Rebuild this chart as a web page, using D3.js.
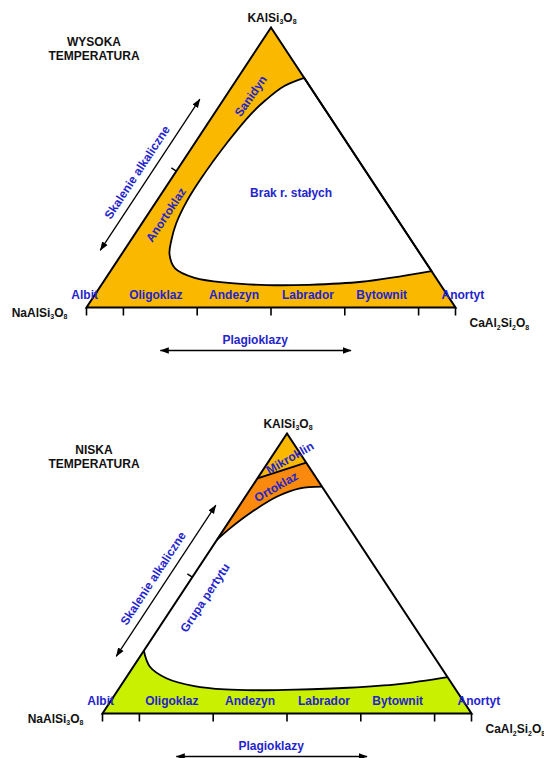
<!DOCTYPE html>
<html>
<head>
<meta charset="utf-8">
<script src="https://cdn.jsdelivr.net/npm/d3@7"></script>
<style>
  body { margin: 0; background: #ffffff; }
  svg { display: block; }
  text { font-family: "Liberation Sans", Arial, Helvetica, sans-serif; font-weight: bold; }
</style>
</head>
<body>
<svg id="chart" width="544" height="758"></svg>
<script>
// ---- data -------------------------------------------------------------
// Plagioclase series names and their positions along the Ab–An join (An fraction)
const plagioclaseNames = ["Albit", "Oligoklaz", "Andezyn", "Labrador", "Bytownit", "Anortyt"];
const plagioclaseNamePos = [-0.005, 0.188, 0.40, 0.60, 0.80, 1.02];
// Division ticks along the Ab–An join (An fraction)
const baseTicks = [0, 0.1, 0.3, 0.5, 0.7, 0.9, 1];

// End-member formulas: [text, isSubscript]
const formulaOr = [["KAlSi", false], ["3", true], ["O", false], ["8", true]];
const formulaAb = [["NaAlSi", false], ["3", true], ["O", false], ["8", true]];
const formulaAn = [["CaAl", false], ["2", true], ["Si", false], ["2", true], ["O", false], ["8", true]];

// High temperature: boundary of the field without solid solution, points as [An, Or]
const gapHigh = [[0.18, 0.82], [0.14, 0.79], [0.115, 0.74], [0.10, 0.69], [0.087, 0.59],
  [0.08, 0.46], [0.082, 0.38], [0.093, 0.30], [0.11, 0.24], [0.13, 0.19], [0.17, 0.14],
  [0.24, 0.106], [0.34, 0.088], [0.45, 0.080], [0.56, 0.081], [0.70, 0.092], [0.87, 0.13]];

// Low temperature: upper limit of the plagioclase field, [An, Or]
const plagLow = [[0.87, 0.13], [0.75, 0.105], [0.62, 0.092], [0.48, 0.085], [0.39, 0.083],
  [0.29, 0.086], [0.20, 0.098], [0.11, 0.126], [0.045, 0.167], [0, 0.224]];
// Low temperature: lower limit of the orthoclase field, [An, Or]
const orthoLow = [[0.19, 0.81], [0.133, 0.804], [0.085, 0.774], [0.042, 0.715], [0.015, 0.661], [0, 0.62]];
// Low temperature: microcline / orthoclase boundary, [An, Or]
const microLine = [[0, 0.84], [0.104, 0.896]];

// ---- layout -----------------------------------------------------------
const W = 369, H = 280;
const BLUE = "#2424cc";
const svg = d3.select("#chart");

svg.append("defs").append("marker")
  .attr("id", "arrowHead")
  .attr("viewBox", "0 -4 9 8")
  .attr("refX", 8.5).attr("refY", 0)
  .attr("markerWidth", 9).attr("markerHeight", 8)
  .attr("markerUnits", "userSpaceOnUse")
  .attr("orient", "auto-start-reverse")
  .append("path").attr("d", "M0,-3.3L9,0L0,3.3Z").attr("fill", "#000");

function formula(g, parts, x, y, anchor) {
  const t = g.append("text").attr("x", x).attr("y", y).attr("text-anchor", anchor)
    .attr("font-size", 12).attr("fill", "#111");
  let sub = false;
  parts.forEach(([s, isSub]) => {
    const sp = t.append("tspan").text(s);
    if (isSub && !sub) { sp.attr("dy", 2.5).attr("font-size", 7); sub = true; }
    else if (isSub) { sp.attr("font-size", 7); }
    else if (!isSub && sub) { sp.attr("dy", -2.5); sub = false; }
  });
  return t;
}

function drawPanel(cfg) {
  const g = svg.append("g");
  const [ox, oy] = cfg.origin;
  const x = d3.scaleLinear().domain([0, 1]).range([ox, ox + W]);
  const y = d3.scaleLinear().domain([0, 1]).range([oy, oy - H]);
  // ternary [An, Or] -> screen
  const P = ([a, o]) => [x(a + o / 2), y(o)];
  const curve = d3.line().curve(d3.curveCatmullRom.alpha(0.5));
  const straight = d3.line();
  const tri = [[0, 0], [1, 0], [0, 1]].map(P);

  // unit vectors along and across the Ab–Or edge
  const [lx, ly] = P([0, 0]), [tx, ty] = P([0, 1]);
  const len = Math.hypot(tx - lx, ty - ly);
  const ux = (tx - lx) / len, uy = (ty - ly) / len;
  const nx = uy, ny = -ux;               // outward normal (to the left)
  const edgeAngle = Math.atan2(uy, ux) * 180 / Math.PI;
  const edgePt = (f, off) => [lx + ux * len * f + nx * off, ly + uy * len * f + ny * off];

  cfg.fields(g, P, curve, straight, tri);

  // triangle outline
  g.append("path").attr("d", straight(tri) + "Z")
    .attr("fill", "none").attr("stroke", "#000").attr("stroke-width", 2).attr("stroke-linejoin", "miter");

  // base ticks
  g.selectAll(".tick").data(baseTicks).join("line")
    .attr("x1", d => x(d)).attr("x2", d => x(d))
    .attr("y1", oy).attr("y2", oy + 8)
    .attr("stroke", "#000").attr("stroke-width", 1.6);

  // plagioclase names
  g.selectAll(".pname").data(plagioclaseNames).join("text")
    .attr("x", (d, i) => x(plagioclaseNamePos[i])).attr("y", oy - 9)
    .attr("text-anchor", "middle").attr("font-size", 12).attr("fill", BLUE)
    .text(d => d);

  // end-member labels
  formula(g, formulaOr, tx + 1, ty - 6, "middle");
  formula(g, formulaAb, lx - 19, oy + 9, "end");
  formula(g, formulaAn, x(1) + 14, oy + 19.5, "start");

  // plagioclase arrow and label
  g.append("line")
    .attr("x1", x(0.2)).attr("x2", x(0.717)).attr("y1", oy + 43).attr("y2", oy + 43)
    .attr("stroke", "#000").attr("stroke-width", 1.3)
    .attr("marker-start", "url(#arrowHead)").attr("marker-end", "url(#arrowHead)");
  g.append("text").attr("x", x(0.457)).attr("y", oy + 36.5)
    .attr("text-anchor", "middle").attr("font-size", 12).attr("fill", BLUE).text("Plagioklazy");

  // alkali feldspar arrow along the Ab–Or edge
  const a0 = edgePt(0.165, 20), a1 = edgePt(0.705, 20);
  g.append("line").attr("x1", a0[0]).attr("y1", a0[1]).attr("x2", a1[0]).attr("y2", a1[1])
    .attr("stroke", "#000").attr("stroke-width", 1.3)
    .attr("marker-start", "url(#arrowHead)").attr("marker-end", "url(#arrowHead)");
  // midpoint tick on the Ab–Or edge
  const m0 = edgePt(0.487, 0), m1 = edgePt(0.487, 6);
  g.append("line").attr("x1", m0[0]).attr("y1", m0[1]).attr("x2", m1[0]).attr("y2", m1[1])
    .attr("stroke", "#000").attr("stroke-width", 1.4);

  const sk = edgePt(0.42, 32);
  g.append("text").attr("transform", `translate(${sk[0]},${sk[1]}) rotate(${edgeAngle})`)
    .attr("text-anchor", "middle").attr("dominant-baseline", "central")
    .attr("font-size", 12).attr("fill", BLUE).text("Skalenie alkaliczne");

  // panel title
  g.selectAll(".title").data(cfg.title).join("text")
    .attr("x", 94).attr("y", (d, i) => cfg.titleY + i * 14)
    .attr("text-anchor", "middle").attr("font-size", 12).attr("fill", "#111")
    .text(d => d);

  cfg.labels(g, P, edgePt, edgeAngle);
}

function rotatedLabel(g, pos, angle, text) {
  g.append("text").attr("transform", `translate(${pos[0]},${pos[1]}) rotate(${angle})`)
    .attr("text-anchor", "middle").attr("dominant-baseline", "central")
    .attr("font-size", 12).attr("fill", BLUE).text(text);
}

// ---- high temperature -------------------------------------------------
drawPanel({
  origin: [86.5, 307.5],
  title: ["WYSOKA", "TEMPERATURA"],
  titleY: 46,
  fields(g, P, curve, straight, tri) {
    g.append("path").attr("d", straight(tri) + "Z").attr("fill", "#fab800");
    g.append("path").attr("d", curve(gapHigh.map(P)) + "Z")
      .attr("fill", "#ffffff").attr("stroke", "#000").attr("stroke-width", 1.8);
  },
  labels(g, P, edgePt, edgeAngle) {
    rotatedLabel(g, P([0.068, 0.755]), -55, "Sanidyn");
    rotatedLabel(g, edgePt(0.361, -15.5), edgeAngle, "Anortoklaz");
    const b = P([0.35, 0.409]);
    g.append("text").attr("x", b[0]).attr("y", b[1]).attr("text-anchor", "middle")
      .attr("dominant-baseline", "central").attr("font-size", 12).attr("fill", BLUE)
      .text("Brak r. stałych");
  }
});

// ---- low temperature --------------------------------------------------
drawPanel({
  origin: [102.5, 713.5],
  title: ["NISKA", "TEMPERATURA"],
  titleY: 454,
  fields(g, P, curve, straight, tri) {
    const apex = P([0, 1]);
    const m0 = P(microLine[0]), m1 = P(microLine[1]);
    // microcline
    g.append("path").attr("d", straight([apex, m1, m0]) + "Z").attr("fill", "#fab800");
    // orthoclase
    g.append("path")
      .attr("d", straight([m0, m1]) + "L" + curve(orthoLow.map(P)).slice(1) + "Z")
      .attr("fill", "#f98a0e");
    // plagioclase + perthite field
    g.append("path")
      .attr("d", straight([P([0, 0]), P([1, 0])]) + "L" + curve(plagLow.map(P)).slice(1) + "Z")
      .attr("fill", "#c8f000");
    // boundaries
    [orthoLow, plagLow].forEach(c => g.append("path").attr("d", curve(c.map(P)))
      .attr("fill", "none").attr("stroke", "#000").attr("stroke-width", 1.8));
    g.append("path").attr("d", straight([m0, m1]))
      .attr("fill", "none").attr("stroke", "#000").attr("stroke-width", 1.8);
  },
  labels(g, P, edgePt, edgeAngle) {
    rotatedLabel(g, P([0.052, 0.9125]), -30, "Mikroklin");
    rotatedLabel(g, P([0.066, 0.809]), -30, "Ortoklaz");
    rotatedLabel(g, edgePt(0.456, -22), edgeAngle, "Grupa pertytu");
  }
});
</script>
</body>
</html>
